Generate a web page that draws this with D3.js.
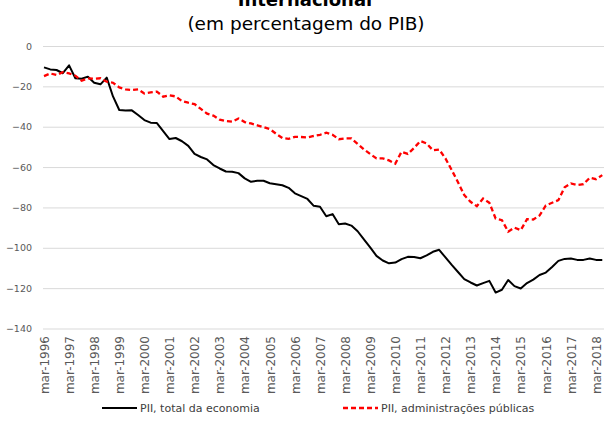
<!DOCTYPE html>
<html>
<head>
<meta charset="utf-8">
<script src="https://cdn.jsdelivr.net/npm/d3@7"></script>
<style>
  body { margin: 0; background: #fff; }
  svg { display: block; font-family: "DejaVu Sans", sans-serif; }
</style>
</head>
<body>
<div id="app"></div>
<script>
// quarterly, mar-1996 .. jun-2018
const startYear = 1996;
const qMonths = ['mar', 'jun', 'set', 'dez'];

const totalEconomia = [
  -10.6, -11.6, -11.9, -13.5, -9.6, -16, -16.2, -15.2, -18.2, -19,
  -15.7, -25, -31.7, -32, -31.9, -34.2, -36.7, -38, -38.2, -42.2,
  -46.1, -45.6, -47.2, -49.5, -53.5, -55, -56.2, -59, -60.7, -62.2,
  -62.3, -63, -65.6, -67.3, -66.8, -66.8, -68, -68.5, -69, -70.3,
  -73, -74.4, -75.8, -79.2, -79.7, -84.4, -83.3, -88.3, -88, -89,
  -91.8, -95.8, -99.8, -104, -106.3, -107.7, -107.3, -105.6, -104.5, -104.6,
  -105.2, -103.8, -102, -101, -104.8, -108.5, -112, -115.5, -117.2, -118.7,
  -117.5, -116.4, -122.2, -120.8, -116, -119, -120.2, -117.5, -115.8, -113.5,
  -112.3, -109.5, -106.5, -105.5, -105.3, -106, -106, -105.3, -106, -106
];

const adminPublicas = [
  -14.9, -13.6, -14.4, -13, -13.6, -14.7, -17.2, -16, -16.2, -16,
  -17.7, -18.2, -20.5, -21.5, -21.8, -21.5, -23.5, -23, -22.6, -25.1,
  -24.4, -25, -27.3, -28.1, -28.8, -31.2, -33.5, -34.5, -36.5, -37.2,
  -37.5, -35.9, -37.7, -38.4, -39.3, -40.2, -41.2, -43.5, -45.6, -46,
  -45, -45.1, -45.3, -44.6, -44, -43, -44, -46.2, -45.8, -45.8,
  -48.5, -51.2, -53.5, -55.7, -55.7, -56.7, -58.3, -52.4, -53.5, -50.5,
  -47.1, -48.3, -51.7, -51.3, -55.7, -61.5, -67.5, -73.9, -77.2, -79.4,
  -75.6, -77.7, -85.5, -86.3, -92, -90, -91.3, -85.8, -86, -84,
  -79, -77.7, -76.4, -70, -68.1, -68.9, -68.5, -65.3, -66, -64
];

const categories = totalEconomia.map((d, i) =>
  qMonths[i % 4] + '-' + (startYear + Math.floor(i / 4)));
const yTicks = [0, -20, -40, -60, -80, -100, -120, -140];

const seriesNames = ['PII, total da economia', 'PII, administrações públicas'];

const W = 604, H = 421;
const svg = d3.select('#app').append('svg').attr('width', W).attr('height', H);

const x = d3.scaleLinear().domain([0, 88]).range([44, 596]);
const y = d3.scaleLinear().domain([-140, 0]).range([328.5, 46]);

// title (top line is cut off in the original)
svg.append('text')
  .attr('x', 305).attr('y', 6)
  .attr('text-anchor', 'middle')
  .attr('font-size', 18).attr('font-weight', 'bold')
  .attr('fill', '#000')
  .text('Internacional');
svg.append('text')
  .attr('x', 306).attr('y', 30)
  .attr('text-anchor', 'middle')
  .attr('font-size', 18.5)
  .attr('fill', '#000')
  .text('(em percentagem do PIB)');

// gridlines + y axis labels
const yAxis = d3.axisLeft(y).tickValues(yTicks).tickSize(-(W - 43)).tickPadding(11);
const gy = svg.append('g').attr('transform', 'translate(43,0)').call(yAxis);
gy.select('.domain').remove();
gy.selectAll('.tick line').attr('stroke', '#d9d9d9').attr('stroke-width', 1);
gy.selectAll('.tick text').attr('fill', '#595959').attr('font-size', 9.5)
  .attr('font-family', '"DejaVu Sans", sans-serif');

// x axis labels (every 4th quarter)
const xTickIdx = d3.range(0, categories.length, 4);
const xAxis = d3.axisBottom(x).tickValues(xTickIdx).tickFormat(i => categories[i]).tickSize(0);
const gx = svg.append('g').attr('transform', 'translate(0,332)').call(xAxis);
gx.select('.domain').remove();
gx.selectAll('.tick text')
  .attr('fill', '#595959').attr('font-size', 12)
  .attr('font-family', '"DejaVu Sans", sans-serif')
  .attr('text-anchor', 'end')
  .attr('dy', '0.35em')
  .attr('transform', 'rotate(-90) translate(-4,0)')
  .attr('x', 0).attr('y', 0);

const line = d3.line().x((d, i) => x(i)).y(d => y(d));

svg.append('path').datum(totalEconomia)
  .attr('d', line).attr('fill', 'none')
  .attr('stroke', '#000').attr('stroke-width', 2)
  .attr('stroke-linejoin', 'round');

svg.append('path').datum(adminPublicas)
  .attr('d', line).attr('fill', 'none')
  .attr('stroke', '#ff0000').attr('stroke-width', 2.3)
  .attr('stroke-dasharray', '5,3');

// legend
const legend = svg.append('g');
const legItems = [
  { name: seriesNames[0], x: 102, color: '#000', dash: null, w: 2 },
  { name: seriesNames[1], x: 343, color: '#ff0000', dash: '5,3', w: 2.3 }
];
legItems.forEach(it => {
  legend.append('line')
    .attr('x1', it.x).attr('x2', it.x + 35).attr('y1', 408).attr('y2', 408)
    .attr('stroke', it.color).attr('stroke-width', it.w)
    .attr('stroke-dasharray', it.dash);
  legend.append('text')
    .attr('x', it.x + 38).attr('y', 412)
    .attr('font-size', 11).attr('fill', '#404040')
    .text(it.name);
});
</script>
</body>
</html>
